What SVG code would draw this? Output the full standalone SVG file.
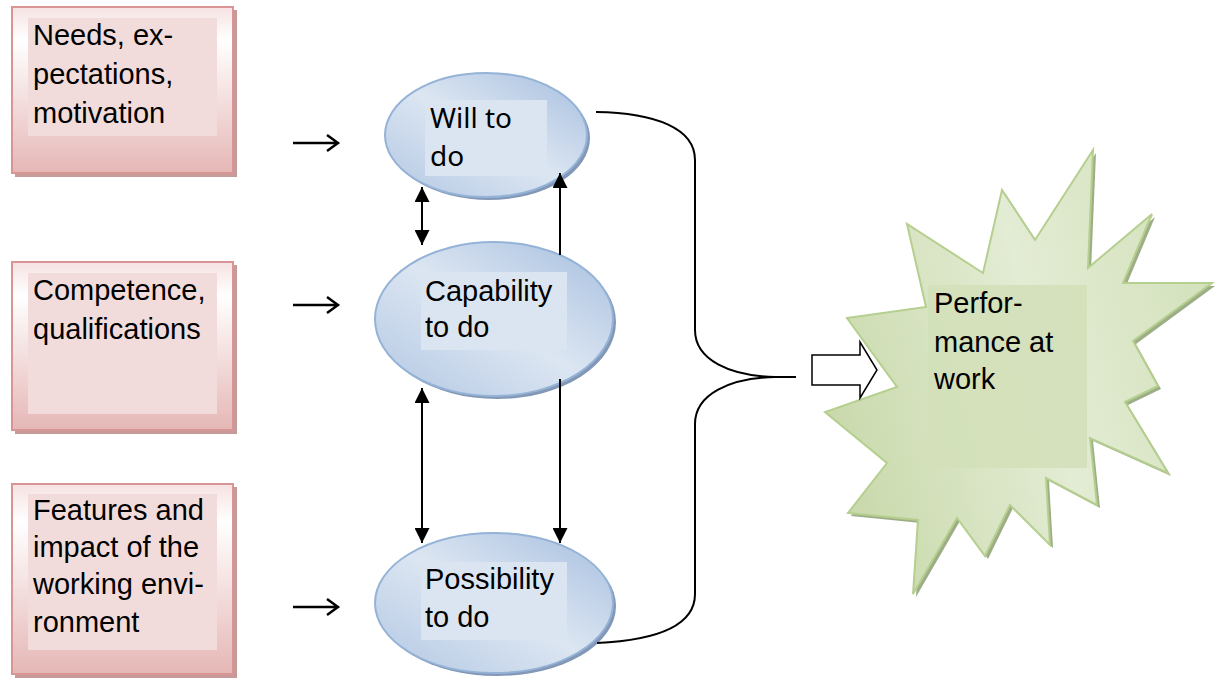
<svg xmlns="http://www.w3.org/2000/svg" width="1229" height="688" viewBox="0 0 1229 688">
  <defs>
    <linearGradient id="pinkFill" x1="0" y1="0" x2="0" y2="1">
      <stop offset="0" stop-color="#f6e2e2"/>
      <stop offset="0.2" stop-color="#ffffff"/>
      <stop offset="1" stop-color="#e5b7b6"/>
    </linearGradient>
    <linearGradient id="blueFill" x1="1" y1="0" x2="0" y2="1">
      <stop offset="0" stop-color="#a6bedf"/>
      <stop offset="0.5" stop-color="#dce6f2"/>
      <stop offset="1" stop-color="#b2c7e3"/>
    </linearGradient>
    <linearGradient id="greenFill" x1="0" y1="0.6" x2="1" y2="0.3">
      <stop offset="0" stop-color="#c9d9ab"/>
      <stop offset="0.55" stop-color="#e3ecd4"/>
      <stop offset="1" stop-color="#d3e1bb"/>
    </linearGradient>
    <marker id="head" viewBox="0 0 10 10" refX="10" refY="5" markerWidth="15" markerHeight="15" markerUnits="userSpaceOnUse" orient="auto-start-reverse">
      <path d="M0,0 L10,5 L0,10 Z" fill="#000"/>
    </marker>
  </defs>
  <style>
    .box { fill: url(#pinkFill); stroke: #d99594; stroke-width: 2; }
    .boxShadow { fill: #c59a99; }
    .boxText { fill: #f2dcdb; }
    .oval { fill: url(#blueFill); stroke: #95b3d7; stroke-width: 2; }
    .ovalShadow { fill: #8298b6; }
    .ovalText { fill: #dbe5f1; }
    .label { font-family: "Liberation Sans", Arial, sans-serif; font-size: 29px; fill: #000; }
    .labelAlt { font-family: "Noto Sans", "Open Sans", sans-serif; font-size: 28px; fill: #000; }
    .wire { fill: none; stroke: #000; stroke-width: 2; }
    .lead { fill: none; stroke: #000; stroke-width: 2.5; }
  </style>

  <rect width="1229" height="688" fill="#ffffff"/>

  <!-- source boxes -->
  <g id="needs">
    <rect class="boxShadow" x="15" y="10" width="222" height="167"/>
    <rect class="box" x="12" y="7" width="221" height="166"/>
    <rect class="boxText" x="28" y="18" width="189" height="118"/>
    <text class="label" x="33" y="45">Needs, ex-</text>
    <text class="label" x="33" y="84">pectations,</text>
    <text class="label" x="33" y="123">motivation</text>
  </g>
  <g id="competence">
    <rect class="boxShadow" x="15" y="265" width="222" height="169"/>
    <rect class="box" x="12" y="262" width="221" height="168"/>
    <rect class="boxText" x="28" y="273" width="189" height="141"/>
    <text class="label" x="33" y="300">Competence,</text>
    <text class="label" x="33" y="339">qualifications</text>
  </g>
  <g id="environment">
    <rect class="boxShadow" x="15" y="487" width="222" height="191"/>
    <rect class="box" x="12" y="484" width="221" height="190"/>
    <rect class="boxText" x="28" y="494" width="189" height="156"/>
    <text class="label" x="33" y="520">Features and</text>
    <text class="label" x="33" y="557">impact of the</text>
    <text class="label" x="33" y="594">working envi-</text>
    <text class="label" x="33" y="632">ronment</text>
  </g>

  <!-- ovals -->
  <g id="will">
    <ellipse class="ovalShadow" cx="489" cy="138" rx="101" ry="62"/>
    <ellipse class="oval" cx="486" cy="135" rx="101" ry="62"/>
    <rect class="ovalText" x="425" y="100" width="122" height="76"/>
    <text class="labelAlt" x="430" y="128">Will to</text>
    <text class="labelAlt" x="430" y="166">do</text>
  </g>
  <g id="capability">
    <ellipse class="ovalShadow" cx="497" cy="322" rx="119" ry="77"/>
    <ellipse class="oval" cx="494" cy="319" rx="119" ry="77"/>
    <rect class="ovalText" x="421" y="272" width="146" height="78"/>
    <text class="label" x="425" y="301">Capability</text>
    <text class="label" x="425" y="337">to do</text>
  </g>
  <g id="possibility">
    <ellipse class="ovalShadow" cx="497" cy="606" rx="119" ry="70"/>
    <ellipse class="oval" cx="494" cy="603" rx="119" ry="70"/>
    <rect class="ovalText" x="421" y="562" width="146" height="78"/>
    <text class="label" x="425" y="589">Possibility</text>
    <text class="label" x="425" y="627">to do</text>
  </g>

  <!-- result burst -->
  <g id="performance">
    <polygon fill="#9dae86" transform="translate(3,3)" points="1093,150 1035,240 1002,190 983,273 907,224 926,307 847,318 897,387 825,412 887,463 848,513 918,520 913,594 957,518 985,556 1010,505 1050,545 1046,478 1097,505 1090,438 1168,473 1125,402 1158,386 1133,341 1212,283 1123,283 1152,214 1088,268"/>
    <polygon fill="url(#greenFill)" stroke="#b5cf8f" stroke-width="2" stroke-linejoin="miter" points="1093,150 1035,240 1002,190 983,273 907,224 926,307 847,318 897,387 825,412 887,463 848,513 918,520 913,594 957,518 985,556 1010,505 1050,545 1046,478 1097,505 1090,438 1168,473 1125,402 1158,386 1133,341 1212,283 1123,283 1152,214 1088,268"/>
    <rect x="928" y="285" width="159" height="183" fill="#d3e0b9" opacity="0.9"/>
    <text class="label" x="934" y="313">Perfor-</text>
    <text class="label" x="934" y="352">mance at</text>
    <text class="label" x="934" y="389">work</text>
  </g>

  <!-- connectors -->
  <g id="connectors">
    <!-- inputs to ovals -->
    <path class="lead" d="M293,143 L337,143 M327,135 L338,143 L327,151"/>
    <path class="lead" d="M293,305 L337,305 M327,297 L338,305 L327,313"/>
    <path class="lead" d="M293,607 L337,607 M327,599 L338,607 L327,615"/>
    <!-- links between ovals -->
    <line class="wire" x1="422" y1="187" x2="422" y2="245" marker-start="url(#head)" marker-end="url(#head)"/>
    <line class="wire" x1="560" y1="255" x2="560" y2="173" marker-end="url(#head)"/>
    <line class="wire" x1="422" y1="388" x2="422" y2="543" marker-start="url(#head)" marker-end="url(#head)"/>
    <line class="wire" x1="560" y1="379" x2="560" y2="543" marker-end="url(#head)"/>
    <!-- brace gathering the three ovals -->
    <path class="wire" d="M596,112 C655,113 695,128 695,160 L695,330 C695,360 730,376 775,377 L796,377 M775,377 C730,378 695,394 695,424 L695,594 C695,625 660,640 597,643"/>
    <!-- hollow block arrow -->
    <path d="M812,355 L860,355 L860,342 L877,370 L860,398 L860,385 L812,385 Z" fill="#ffffff" stroke="#000" stroke-width="1.5"/>
  </g>
</svg>
